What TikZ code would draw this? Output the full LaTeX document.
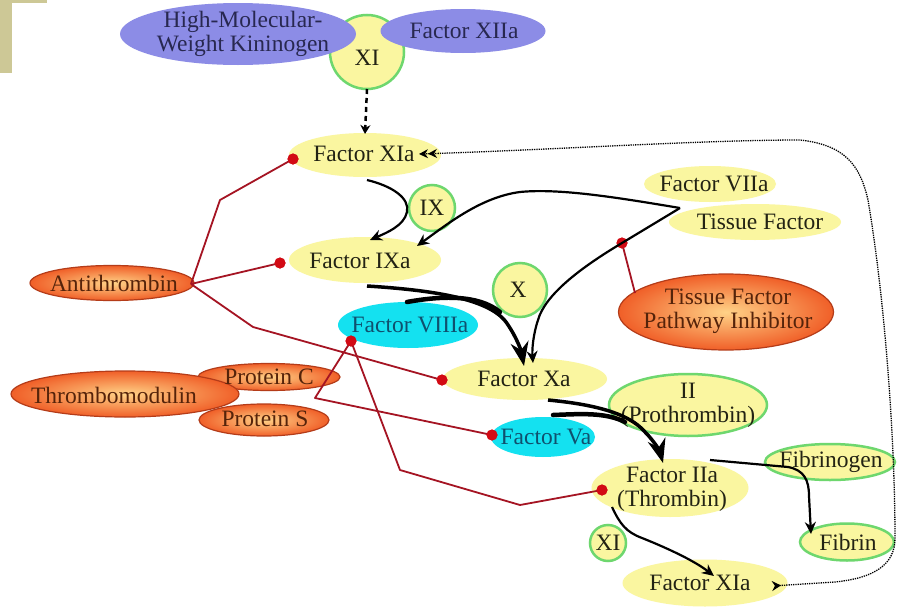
\documentclass[tikz,border=0pt]{standalone}
\usepackage{fontspec}
\setmainfont{Liberation Serif}
\usetikzlibrary{arrows.meta,shapes.geometric}
\definecolor{yel}{RGB}{250,246,160}
\definecolor{grn}{RGB}{110,215,110}
\definecolor{vio}{RGB}{140,140,230}
\definecolor{cyn}{RGB}{20,225,240}
\definecolor{orin}{RGB}{255,210,135}
\definecolor{orout}{RGB}{240,95,40}
\definecolor{orbd}{RGB}{180,60,25}
\definecolor{inh}{RGB}{165,20,35}
\definecolor{dotred}{RGB}{210,10,20}
\definecolor{beige}{RGB}{205,200,150}
\definecolor{txt}{RGB}{35,35,20}
\definecolor{vtxt}{RGB}{40,40,80}
\definecolor{cytxt}{RGB}{15,80,110}
\definecolor{brtxt}{RGB}{85,35,10}
\begin{document}
\begin{tikzpicture}[x=1pt,y=-1pt,
  every node/.style={inner sep=0pt, outer sep=0pt},
  tx/.style={font=\fontsize{23.5}{24}\selectfont, align=center, text=txt},
  vtx/.style={tx, text=vtxt},
  ctx/.style={tx, text=cytxt},
  otx/.style={tx, text=brtxt},
  yelell/.style={ellipse, fill=yel},
  grnell/.style={ellipse, fill=yel, draw=grn, line width=2.5pt},
  grncirc/.style={circle, fill=yel, draw=grn, line width=2.5pt},
  vioell/.style={ellipse, fill=vio},
  cyell/.style={ellipse, fill=cyn},
  orell/.style={ellipse, draw=orbd, line width=1.2pt, inner color=orin, outer color=orout},
  inhib/.style={draw=inh, line width=1.8pt, line join=round},
  rdot/.style={circle, fill=dotred, minimum size=11pt},
  act/.style={draw=black, line width=2.2pt, -{Stealth[length=12pt,width=11pt]}},
  bigact/.style={draw=black, line width=3.5pt, -{Stealth[length=24pt,width=18pt]}},
  feed/.style={draw=black, line width=4.5pt, line cap=round}
]
\useasboundingbox (0,0) rectangle (898,608);
\fill[white] (0,0) rectangle (898,608);
\fill[beige] (0,0) rectangle (12,73);
\fill[beige] (0,0) rectangle (47,3);

% ---------- shapes ----------
\node[grncirc, minimum size=74pt] (xitop) at (367,52) {};
\node[vioell, minimum width=236pt, minimum height=62pt] (hmwk) at (238,34) {};
\node[vioell, minimum width=165pt, minimum height=44pt] (xiia) at (463,31) {};

\node[yelell, minimum width=152pt, minimum height=44pt] (xia1) at (365,155) {};
\node[grncirc, minimum size=46pt] (ix) at (432,208) {};
\node[yelell, minimum width=152pt, minimum height=46pt] (ixa) at (365,260) {};
\node[yelell, minimum width=132pt, minimum height=36pt] (viia) at (710,184) {};
\node[yelell, minimum width=172pt, minimum height=36pt] (tf) at (755,222) {};
\node[orell, minimum width=215pt, minimum height=76pt] (tfpi) at (726,312) {};
\node[grncirc, minimum size=54pt] (xc) at (520,290) {};
\node[cyell, minimum width=140pt, minimum height=46pt] (viiia) at (408,325) {};
\node[yelell, minimum width=164pt, minimum height=42pt] (xa) at (525,379) {};
\node[orell, minimum width=164pt, minimum height=35pt] (anti) at (112,283) {};
\node[orell, minimum width=142pt, minimum height=27pt] (protc) at (269,377) {};
\node[orell, minimum width=130pt, minimum height=32pt] (prots) at (264,420) {};
\node[orell, minimum width=228pt, minimum height=46pt] (tm) at (125,394) {};
\node[cyell, minimum width=104pt, minimum height=40pt] (va) at (543,437) {};
\node[grnell, minimum width=158pt, minimum height=62pt] (ii) at (688,405) {};
\node[yelell, minimum width=157pt, minimum height=58pt] (iia) at (670,488) {};
\node[grnell, minimum width=130pt, minimum height=36pt] (fbg) at (830,462) {};
\node[grnell, minimum width=94pt, minimum height=37pt] (fbn) at (847,542) {};
\node[grncirc, minimum size=36pt] (xis) at (608,543) {};
\node[yelell, minimum width=165pt, minimum height=47pt] (xia2) at (705,583) {};

% ---------- texts ----------
\node[tx] (xitopt) at (367,58) {XI};
\node[vtx] (hmwkt) at (243,34) {High-Molecular-\\Weight Kininogen};
\node[vtx] (xiiat) at (464,31) {Factor XIIa};
\node[tx] (xia1t) at (364,154) {Factor XIa};
\node[tx] (ixt) at (432,208) {IX};
\node[tx] (ixat) at (360,261) {Factor IXa};
\node[tx] (viiat) at (714,184) {Factor VIIa};
\node[tx] (tft) at (760,222) {Tissue Factor};
\node[otx] (tfpit) at (728,311) {Tissue Factor\\Pathway Inhibitor};
\node[tx] (xct) at (518,290) {X};
\node[ctx] (viiiat) at (410,325) {Factor VIIIa};
\node[tx] (xat) at (524,379) {Factor Xa};
\node[otx] (antit) at (114,283) {Antithrombin};
\node[otx] (protct) at (269,377) {Protein C};
\node[otx] (protst) at (265,419) {Protein S};
\node[otx] (tmt) at (114,395) {Thrombomodulin};
\node[ctx] (vat) at (546,437) {Factor Va};
\node[tx] (iit) at (688,405) {II\\(Prothrombin)};
\node[tx] (iiat) at (672,489) {Factor IIa\\(Thrombin)};
\node[tx] (fbgt) at (831,462) {Fibrinogen};
\node[tx] (fbnt) at (848,542) {Fibrin};
\node[tx] (xist) at (608,543) {XI};
\node[tx] (xia2t) at (700,583) {Factor XIa};

% ---------- helper coordinates ----------
\coordinate (antiE) at (191,284);
\coordinate (bendA) at (220,200);
\coordinate (bendB) at (253,327);
\coordinate (pcsV) at (315,398);
\coordinate (bendC) at (400,470);
\coordinate (bendD) at (520,505);
\coordinate (tfpiT) at (635,293);
\coordinate (tfV) at (680,208);

% ---------- inhibition lines (red) ----------
\node[rdot] (d1) at (293,159) {};
\node[rdot] (d2) at (280,263) {};
\node[rdot] (d3) at (442,380) {};
\node[rdot] (d4) at (351,341) {};
\node[rdot] (d5) at (492,435) {};
\node[rdot] (d6) at (602,490) {};
\node[rdot] (d7) at (622,243) {};
\draw[inhib] (antiE) -- (bendA) -- (d1.center);
\draw[inhib] (antiE) -- (d2.center);
\draw[inhib] (antiE) -- (bendB) -- (d3.center);
\draw[inhib] (d4.center) -- (pcsV) -- (d5.center);
\draw[inhib] (d4.center) -- (bendC) -- (bendD) -- (d6.center);
\draw[inhib] (tfpiT) -- (d7.center);
\foreach \d in {d1,d2,d3,d4,d5,d6,d7} \node[rdot] at (\d) {};

% ---------- activation arrows (black) ----------
\draw[draw=black, line width=2.5pt, dash pattern=on 5pt off 4pt, -{Stealth[length=9pt,width=10pt]}]
  (xitop.south) -- (365,134);
\draw[act] (367,180) .. controls (392,186) and (410,198) .. (407,212)
  .. controls (404,226) and (386,233) .. (370,240);
\draw[act] (tfV) .. controls (620,198) and (560,188) .. (520,192)
  .. controls (482,197) and (450,222) .. (417,246);
\draw[act] (tfV) -- (d7.center) .. controls (580,268) and (545,295) .. (538,320)
  .. controls (533,335) and (532,350) .. (533,363);
\draw[feed] (407,302) .. controls (440,296) and (478,294) .. (500,312);
\draw[bigact] (367,286) .. controls (430,290) and (488,298) .. (506,322)
  .. controls (516,336) and (521,350) .. (524,366);
\draw[feed] (553,415) .. controls (580,414) and (605,412) .. (625,422);
\draw[bigact] (548,400) .. controls (590,404) and (628,412) .. (645,432)
  .. controls (655,442) and (660,452) .. (663,463);
\draw[act] (710,460) -- (788,467) .. controls (804,470) and (809,480) .. (809,496)
  -- (811,534);
\draw[act] (612,507) .. controls (620,524) and (626,532) .. (642,538)
  .. controls (672,550) and (696,562) .. (714,576);
\draw[draw=black, line width=1.3pt, densely dotted,
  {Stealth[length=9pt,width=10pt,reversed]}-{Stealth[length=9pt,width=9pt]Stealth[length=9pt,width=9pt]}]
  (772,586) -- (835,582) .. controls (874,578) and (895,565) .. (895,538)
  .. controls (895,440) and (885,300) .. (868,200)
  .. controls (860,165) and (845,145) .. (800,140)
  .. controls (700,140) and (550,150) .. (419,154);
\end{tikzpicture}
\end{document}
